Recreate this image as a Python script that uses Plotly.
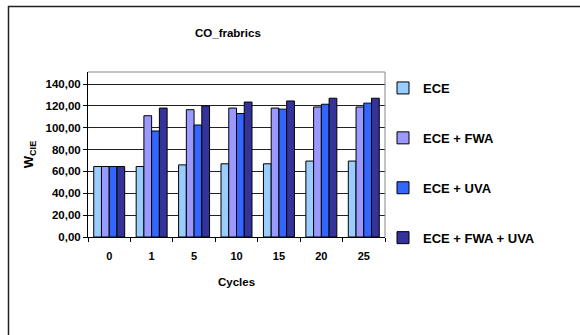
import plotly.graph_objects as go

# Whiteness index (W_CIE) of cotton fabrics after repeated washing cycles
cycles = ["0", "1", "5", "10", "15", "20", "25"]
series_names = ["ECE", "ECE + FWA", "ECE + UVA", "ECE + FWA + UVA"]
ece = [64.5, 64.5, 66.0, 67.0, 67.0, 69.5, 69.5]
ece_fwa = [64.5, 111.0, 116.5, 118.0, 118.0, 119.0, 119.0]
ece_uva = [64.5, 97.0, 102.5, 113.0, 117.0, 121.5, 122.5]
ece_fwa_uva = [64.5, 118.0, 120.0, 123.5, 124.5, 127.0, 127.0]
colors = ["#99CCFF", "#9999FF", "#3366FF", "#333399"]

FONT = "Liberation Sans, Arial, sans-serif"

fig = go.Figure()
for i, (name, vals) in enumerate(zip(series_names, [ece, ece_fwa, ece_uva, ece_fwa_uva])):
    fig.add_trace(go.Bar(
        x=cycles, y=vals, name=name, legendgroup=f"g{i}",
        marker=dict(color=colors[i], line=dict(color="#000000", width=1)),
    ))

# pixel layout: plot area x 88..385, y 72..237; bottom margin kept at zero so
# the legend may run below the plot area without scrolling
W, H = 580, 335
L, R, T, B = 88, 385, 72, 237
MB = 0
pw = R - L
paper_h = H - T - MB


def px_x(p):
    return (p - L) / pw


def px_y(p):
    return (H - MB - p) / paper_h


fig.update_layout(
    width=W, height=H,
    margin=dict(l=L, r=W - R, t=T, b=MB, pad=0, autoexpand=False),
    paper_bgcolor="white", plot_bgcolor="white",
    separators=",.",
    barmode="group", bargap=0.27, bargroupgap=0,
    font=dict(family=FONT, size=11, color="#000000", weight="bold"),
    showlegend=True,
    legend=dict(
        x=px_x(383), y=px_y(73), xanchor="left", yanchor="top",
        font=dict(family=FONT, size=13, color="#000000", weight="bold"),
        tracegroupgap=30, itemwidth=30, bgcolor="rgba(0,0,0,0)",
    ),
    annotations=[
        dict(text="CO_frabrics", x=px_x(228), y=px_y(33), xref="paper", yref="paper",
             xanchor="center", yanchor="middle", showarrow=False,
             font=dict(family=FONT, size=11.5, weight="bold")),
    ],
    shapes=[
        # outer chart frame (extends past the right and bottom edges)
        dict(type="rect", xref="paper", yref="paper",
             x0=px_x(8.5), y0=px_y(360), x1=px_x(600), y1=px_y(6.5),
             line=dict(color="#222222", width=1.5), layer="above"),
        # plot-area border on top and right
        dict(type="line", xref="paper", yref="paper",
             x0=0, x1=1, y0=px_y(T), y1=px_y(T),
             line=dict(color="#888888", width=1)),
        dict(type="line", xref="paper", yref="paper",
             x0=1, x1=1, y0=px_y(B), y1=px_y(T),
             line=dict(color="#888888", width=1)),
    ],
)

fig.update_yaxes(
    domain=[px_y(B), 1], automargin=False,
    range=[0, 151], dtick=20, tick0=0, tickformat=".2f",
    showgrid=True, gridcolor="#222222", gridwidth=1,
    showline=True, linecolor="#000000", linewidth=1,
    ticks="outside", ticklen=4, tickcolor="#000000",
    zeroline=False,
    tickfont=dict(family=FONT, size=11.5, weight="bold"),
    title=dict(text="W<sub>CIE</sub>", standoff=8,
               font=dict(family=FONT, size=13, weight="bold")),
)
fig.update_xaxes(
    automargin=False,
    showline=True, linecolor="#000000", linewidth=1,
    ticks="outside", ticklen=4, tickcolor="#000000", tickson="boundaries",
    showgrid=False, ticklabelstandoff=9,
    tickfont=dict(family=FONT, size=11, weight="bold"),
    title=dict(text="Cycles", standoff=16,
               font=dict(family=FONT, size=11.5, weight="bold")),
)

fig.write_html("out.html")
